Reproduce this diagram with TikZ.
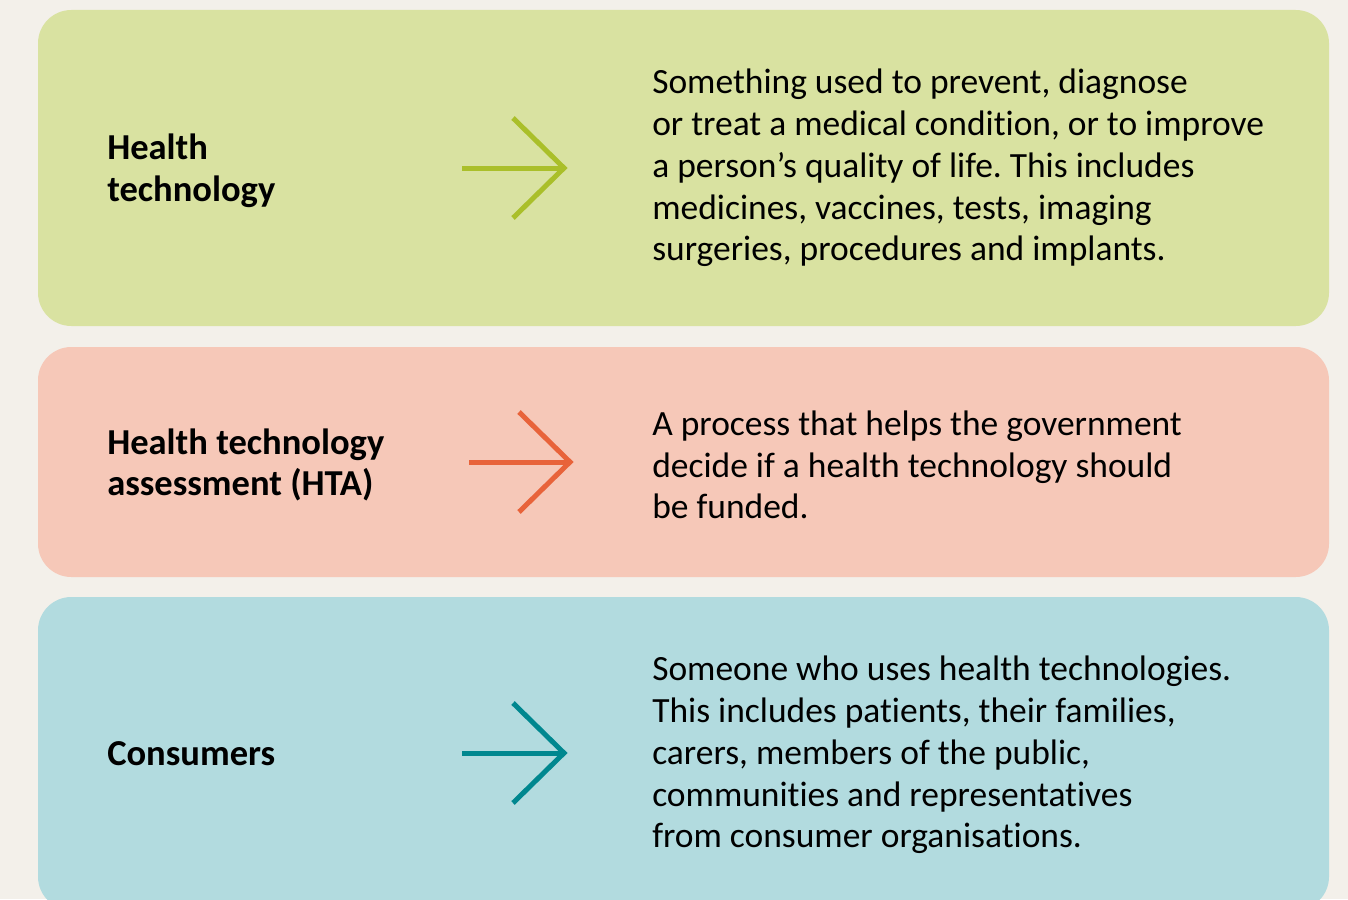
\documentclass[tikz,border=0pt]{standalone}
\usepackage{fontspec}
\setmainfont{Carlito}[Ligatures=NoCommon]
\usetikzlibrary{calc}
\frenchspacing
\definecolor{bgcream}{HTML}{F3F0EA}
\definecolor{greenbox}{HTML}{D9E2A1}
\definecolor{greenline}{HTML}{AABF2A}
\definecolor{pinkbox}{HTML}{F6C8B8}
\definecolor{pinkline}{HTML}{E8633A}
\definecolor{bluebox}{HTML}{B2DBDF}
\definecolor{blueline}{HTML}{00878F}
\begin{document}
\begin{tikzpicture}[x=0.75pt,y=-0.75pt,
    card/.style={rounded corners=25pt},
    term/.style={anchor=west,align=left,inner sep=0pt,font=\bfseries\fontsize{27.4}{31.3}\selectfont},
    meaning/.style={anchor=west,align=left,inner sep=0pt,font=\fontsize{26.6}{31.3}\selectfont},
    pointer/.style={line width=3.75pt,miter limit=10}]
    \useasboundingbox (0,0) rectangle (1348,899);
    \clip (0,0) rectangle (1348,899);
    \fill [bgcream] (0,0) rectangle (1348,899);
    \fill [greenbox,card] (38,10) rectangle (1329,326);
    \fill [pinkbox,card] (38,347) rectangle (1329,577);
    \fill [bluebox,card] (38,597) rectangle (1329,910);

    \node [term] (healthtech) at (107,171) {Health\\technology};
    \node [meaning] (healthtechdef) at (652,168) {Something used to prevent, diagnose\\
        or treat a medical condition, or to improve\\
        a person’s quality of life. This includes\\
        medicines, vaccines, tests, imaging\\
        surgeries, procedures and implants.};
    \coordinate (htTail) at (462,168);
    \coordinate (htTip) at (564,168);
    \draw [pointer,greenline] (htTail) -- (htTip);
    \draw [pointer,greenline] ($(htTip)+(-51,-50)$) -- (htTip) -- ($(htTip)+(-51,50)$);

    \node [term] (hta) at (107,465) {Health technology\\assessment (HTA)};
    \node [meaning] (htadef) at (652,465) {A process that helps the government\\
        decide if a health technology should\\
        be funded.};
    \coordinate (htaTail) at (469,462);
    \coordinate (htaTip) at (570,462);
    \draw [pointer,pinkline] (htaTail) -- (htaTip);
    \draw [pointer,pinkline] ($(htaTip)+(-51,-50)$) -- (htaTip) -- ($(htaTip)+(-51,50)$);

    \node [term] (consumers) at (107,754) {Consumers};
    \node [meaning] (consumersdef) at (652,755) {Someone who uses health technologies.\\
        This includes patients, their families,\\
        carers, members of the public,\\
        communities and representatives\\
        from consumer organisations.};
    \coordinate (conTail) at (462,753);
    \coordinate (conTip) at (564,753);
    \draw [pointer,blueline] (conTail) -- (conTip);
    \draw [pointer,blueline] ($(conTip)+(-51,-50)$) -- (conTip) -- ($(conTip)+(-51,50)$);
\end{tikzpicture}
\end{document}
